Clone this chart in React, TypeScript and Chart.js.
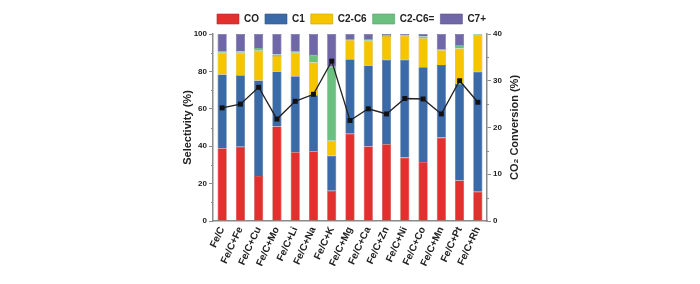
import React, { useEffect, useRef } from "react";
import { Chart, registerables } from "chart.js";
Chart.register(...registerables);

const categories = ["Fe/C", "Fe/C+Fe", "Fe/C+Cu", "Fe/C+Mo", "Fe/C+Li", "Fe/C+Na", "Fe/C+K", "Fe/C+Mg", "Fe/C+Ca", "Fe/C+Zn", "Fe/C+Ni", "Fe/C+Co", "Fe/C+Mn", "Fe/C+Pt", "Fe/C+Rh"];
const coSel = [38.9, 39.7, 24.0, 50.6, 36.7, 37.3, 16.2, 46.7, 39.9, 41.0, 33.9, 31.6, 44.6, 21.7, 15.7];
const c1Sel = [39.5, 38.3, 51.2, 29.4, 40.7, 29.9, 18.7, 39.8, 43.3, 45.3, 52.4, 50.6, 38.8, 51.6, 64.2];
const c2c6Sel = [11.6, 12.0, 15.8, 8.2, 12.6, 17.6, 8.0, 10.1, 13.2, 12.6, 12.7, 15.5, 7.9, 19.0, 19.6];
const c2c6eSel = [0.9, 0.8, 1.5, 0.8, 0.9, 4.0, 39.6, 0.7, 0.9, 0.6, 0.5, 0.9, 0.7, 1.8, 0.3];
const c7Sel = [9.1, 9.2, 7.5, 11.0, 9.1, 11.2, 17.5, 2.7, 2.7, 0.5, 0.5, 1.4, 8.0, 5.9, 0.2];
const co2Conversion = [24.2, 25.0, 28.6, 21.8, 25.6, 27.1, 34.2, 21.5, 24.0, 22.9, 26.2, 26.1, 22.9, 30.0, 25.4];
const leftTicks = [0, 20, 40, 60, 80, 100];
const rightTicks = [0, 10, 20, 30, 40];
const rightTitle = "CO\u2082 Conversion (%)";

const FONT = "'Liberation Sans', Arial, sans-serif";
const AXIS = "#8a8a8a";

const extras = {
  id: "extras",
  afterDraw(chart: any) {
    const ctx = chart.ctx;
    ctx.save();
    ctx.strokeStyle = AXIS;
    ctx.lineWidth = 1;
    const y = chart.scales.y;
    for (let v = 10; v < 100; v += 20) {
      const p = Math.round(y.getPixelForValue(v)) + 0.5;
      ctx.beginPath();
      ctx.moveTo(y.right - 2, p);
      ctx.lineTo(y.right, p);
      ctx.stroke();
    }
    const y1 = chart.scales.y1;
    for (let v = 5; v < 40; v += 10) {
      const p = Math.round(y1.getPixelForValue(v)) + 0.5;
      ctx.beginPath();
      ctx.moveTo(y1.left, p);
      ctx.lineTo(y1.left + 2, p);
      ctx.stroke();
    }
    const ca = chart.chartArea;
    ctx.translate(y1.right - 7, (ca.top + ca.bottom) / 2);
    ctx.rotate(-Math.PI / 2);
    ctx.fillStyle = "#222";
    ctx.font = `bold 11px ${FONT}`;
    ctx.textAlign = "center";
    ctx.textBaseline = "middle";
    ctx.fillText(rightTitle, 0, 0);
    ctx.restore();
  },
};

export default function App() {
  const ref = useRef<HTMLCanvasElement>(null);
  useEffect(() => {
    if (!ref.current) return;
    const bar = (label: string, data: number[], color: string, border: string) => ({
      type: "bar" as const,
      label,
      data,
      backgroundColor: color,
      borderColor: border,
      borderWidth: 0.6,
      stack: "s",
      yAxisID: "y",
      order: 1,
      barPercentage: 0.5,
      categoryPercentage: 1,
    });
    const chart = new Chart(ref.current, {
      type: "bar",
      data: {
        labels: categories,
        datasets: [
          bar("CO", coSel, "#e2302e", "#b52a28"),
          bar("C1", c1Sel, "#3b6aa8", "#2f5588"),
          bar("C2-C6", c2c6Sel, "#f7c400", "#c9a000"),
          bar("C2-C6=", c2c6eSel, "#6cc07f", "#52a064"),
          bar("C7+", c7Sel, "#6f67a8", "#58528a"),
          {
            type: "line" as const,
            label: "Conversion",
            data: co2Conversion,
            yAxisID: "y1",
            borderColor: "#222",
            borderWidth: 1.3,
            backgroundColor: "#111",
            pointStyle: "rect",
            pointRadius: 3.5,
            pointBorderWidth: 0,
            order: 0,
          } as any,
        ],
      },
      options: {
        animation: false,
        responsive: false,
        layout: { padding: { left: 181, right: 178, top: 8, bottom: 0 } },
        plugins: {
          tooltip: { enabled: false },
          legend: {
            position: "top",
            labels: {
              filter: (item: any) => item.text !== "Conversion",
              boxWidth: 22,
              boxHeight: 10,
              padding: 6,
              color: "#222",
              font: { family: FONT, size: 10, weight: "bold" },
            },
          },
        },
        scales: {
          x: {
            stacked: true,
            border: { color: AXIS, width: 1.5 },
            grid: { display: false, drawTicks: false },
            ticks: {
              maxRotation: 65,
              minRotation: 65,
              padding: 4,
              color: "#222",
              font: { family: FONT, size: 10, weight: "bold" },
            },
            afterFit: (s: any) => { s.height = 63; },
          },
          y: {
            stacked: true,
            min: 0,
            max: 100,
            position: "left",
            border: { color: AXIS, width: 1.5 },
            grid: { drawOnChartArea: false, tickLength: 4, color: AXIS },
            ticks: {
              stepSize: 20,
              padding: 2,
              color: "#222",
              font: { family: FONT, size: 8, weight: "bold" },
              callback: (v: any) => (leftTicks.includes(v) ? String(v) : ""),
            },
            title: {
              display: true,
              text: "Selectivity (%)",
              color: "#222",
              padding: 0,
              font: { family: FONT, size: 11, weight: "bold" },
            },
            afterFit: (s: any) => { s.width = 32; },
          },
          y1: {
            min: 0,
            max: 40,
            position: "right",
            border: { color: AXIS, width: 1.5 },
            grid: { drawOnChartArea: false, tickLength: 4, color: AXIS },
            ticks: {
              stepSize: 10,
              padding: 2,
              color: "#222",
              font: { family: FONT, size: 8, weight: "bold" },
              callback: (v: any) => (rightTicks.includes(v) ? String(v) : ""),
            },
            title: { display: false },
            afterFit: (s: any) => { s.width = 35; },
          },
        },
      },
      plugins: [extras],
    });
    return () => chart.destroy();
  }, []);
  return (
    <div style={{ position: "fixed", left: 0, top: 0, width: 700, height: 284, background: "#fff" }}>
      <canvas ref={ref} width={700} height={284} style={{ width: 700, height: 284 }} />
    </div>
  );
}
